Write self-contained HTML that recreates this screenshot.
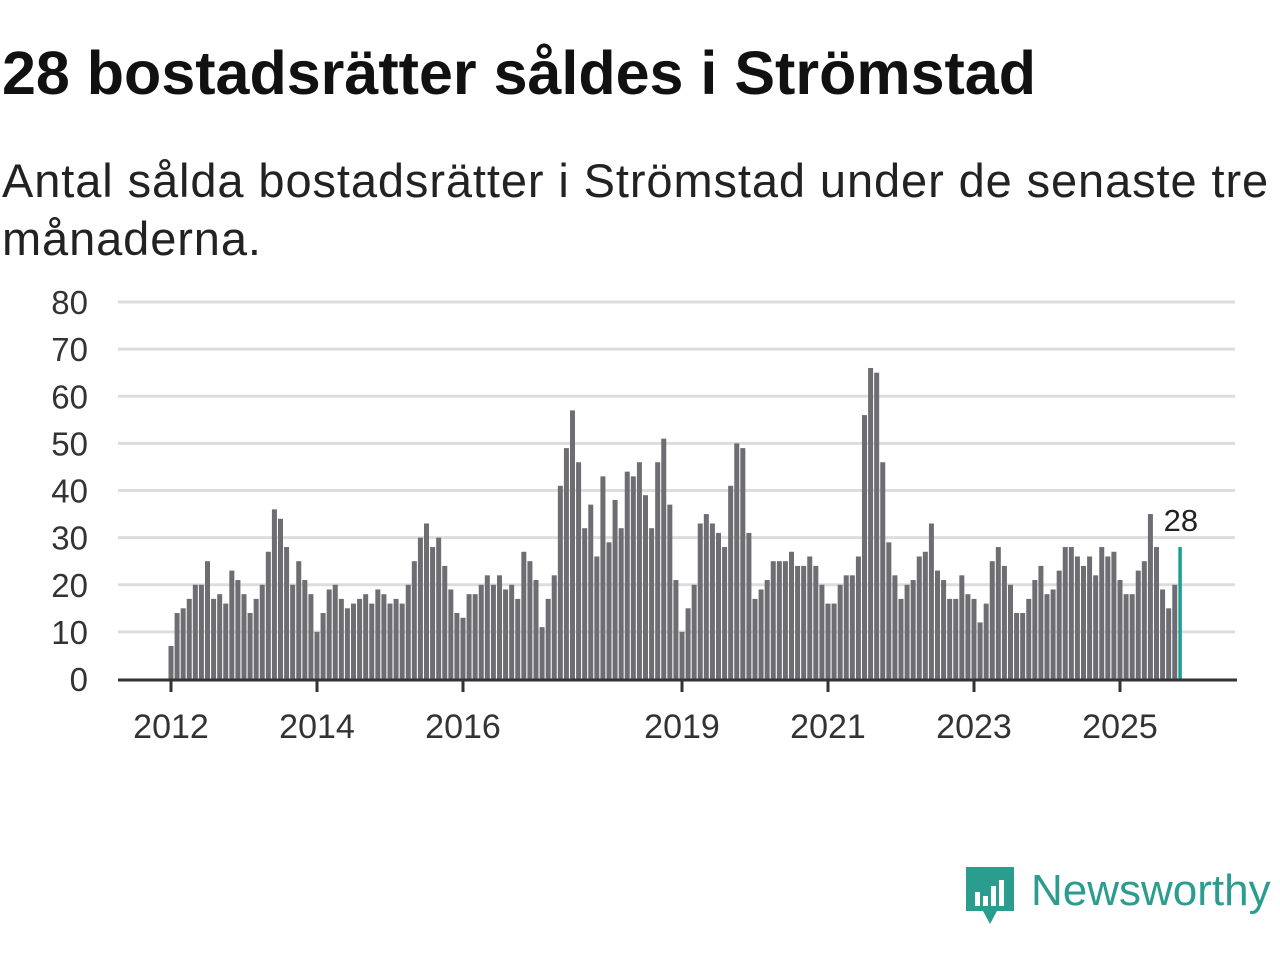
<!DOCTYPE html>
<html><head><meta charset="utf-8"><style>
body{margin:0;background:#fff;width:1280px;height:960px;overflow:hidden;font-family:"Liberation Sans",sans-serif;}
#title{position:absolute;left:2px;top:38px;font-size:61px;font-weight:bold;color:#111;margin:0;line-height:70px;white-space:nowrap}
#sub{position:absolute;left:2px;top:152px;font-size:47px;color:#222;line-height:58px;width:1290px;letter-spacing:0.9px}
</style></head><body>
<h1 id="title">28 bostadsrätter såldes i Strömstad</h1>
<div id="sub">Antal sålda bostadsrätter i Strömstad under de senaste tre månaderna.</div>
<svg id="chart" width="1280" height="960" style="position:absolute;left:0;top:0" font-family="Liberation Sans, sans-serif"></svg>
<div style="position:absolute;left:965px;top:866px;display:flex;align-items:center">
<svg width="50" height="60"><path d="M1 1h48v44H32l-7 13-7-13H1z" fill="#2a9d8f"/><rect x="10" y="26" width="5" height="14" fill="#fff"/><rect x="18" y="30" width="5" height="10" fill="#fff"/><rect x="26" y="20" width="5" height="20" fill="#fff"/><rect x="34" y="14" width="5" height="26" fill="#fff"/></svg>
<span style="font-size:44px;color:#2a9d8f;margin-left:16px;margin-top:-10px">Newsworthy</span></div>
<script>
const values=[7,14,15,17,20,20,25,17,18,16,23,21,18,14,17,20,27,36,34,28,20,25,21,18,
10,14,19,20,17,15,16,17,18,16,19,18,16,17,16,20,25,30,33,28,30,24,19,14,
13,18,18,20,22,20,22,19,20,17,27,25,21,11,17,22,41,49,57,46,32,37,26,43,
29,38,32,44,43,46,39,32,46,51,37,21,
10,15,20,33,35,33,31,28,41,50,49,31,17,19,21,25,25,25,27,24,24,26,24,20,
16,16,20,22,22,26,56,66,65,46,29,22,17,20,21,26,27,33,23,21,17,17,22,18,
17,12,16,25,28,24,20,14,14,17,21,24,18,19,23,28,28,26,24,26,22,28,26,27,
21,18,18,23,25,35,28,19,15,20,28];
const startYear=2012;
const yTicks=[0,10,20,30,40,50,60,70,80];
const xTickYears=[2012,2014,2016,2019,2021,2023,2025];
const NS="http://www.w3.org/2000/svg";
const svg=document.getElementById('chart');
const x=i=>171+i*(73/12);
const y=v=>679-v*(377/80);
function mk(t,a){const e=document.createElementNS(NS,t);for(const k in a)e.setAttribute(k,a[k]);svg.appendChild(e);return e;}
yTicks.forEach(t=>{
 if(t>0){const g=mk('line',{x1:118,x2:1235,y1:y(t),y2:y(t),stroke:'#ddd','stroke-width':3});
 
 }
 const l=mk('text',{x:88,y:y(t)+12,'text-anchor':'end','font-size':33,fill:'#333'});l.textContent=t;
 
 
});
values.forEach((v,i)=>{
 const last=i===values.length-1;
 const r=mk('rect',{x:x(i)-2.5,y:y(v),width:last?3.5:5,height:679-y(v),fill:last?'#1a9e96':'#6e6d72'});
 
 
});
const li=values.length-1;
const lab=mk('text',{x:x(li),y:y(values[li])-16,'text-anchor':'middle','font-size':31,fill:'#222'});lab.textContent=values[li];


const ax=mk('line',{x1:118,x2:1237,y1:680,y2:680,stroke:'#333','stroke-width':3});


xTickYears.forEach(yr=>{
 const i=(yr-startYear)*12;
 const tk=mk('line',{x1:x(i),x2:x(i),y1:680,y2:692,stroke:'#333','stroke-width':3});
 
 
 const t=mk('text',{x:x(i),y:738,'text-anchor':'middle','font-size':34,fill:'#333'});t.textContent=yr;
 
 
});
</script>
</body></html>
